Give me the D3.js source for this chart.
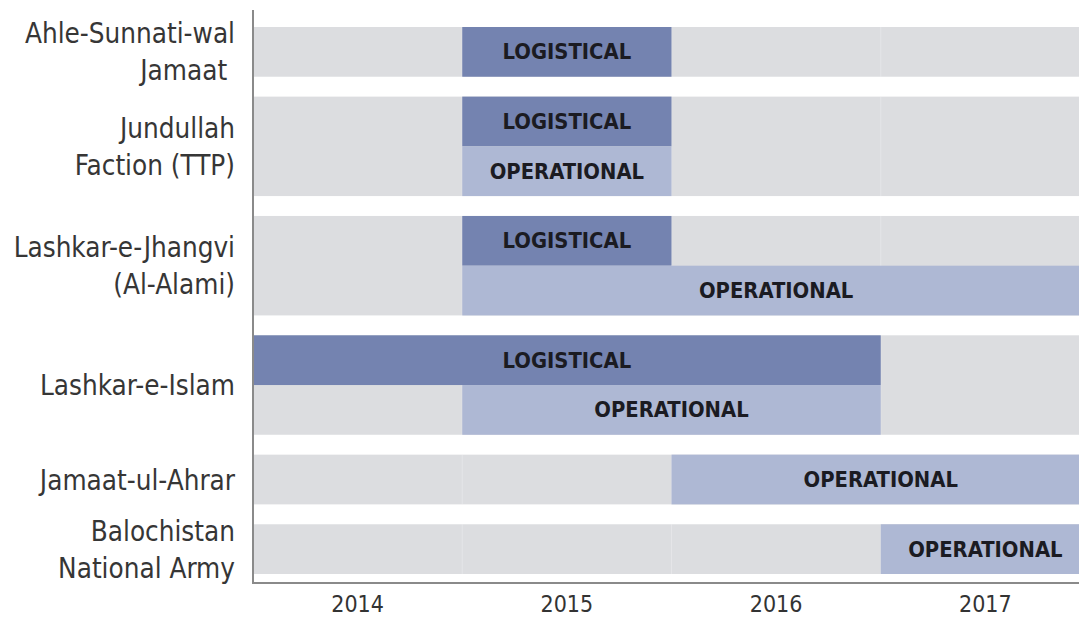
<!DOCTYPE html>
<html lang="en">
<head>
<meta charset="UTF-8">
<title>Militant group cooperation</title>
<script src="https://d3js.org/d3.v7.min.js"></script>
<style>
    body { margin: 0; background: #fff; }
    text { font-family: 'DejaVu Sans Condensed', 'DejaVu Sans', sans-serif; font-stretch: condensed; }
    .group-label { font-size: 27.6px; fill: #363636; text-anchor: end; }
    .bar-label { font-size: 21.8px; font-weight: bold; fill: #1b1b22; text-anchor: middle; }
    .year { font-size: 23px; fill: #333; text-anchor: middle; }
</style>
</head>
<body>
<svg width="1079" height="619"></svg>
<script>
    // groups, top to bottom (lines of the label)
    const groups = [
        ["Ahle-Sunnati-wal", "Jamaat\u00a0"],
        ["Jundullah", "Faction (TTP)"],
        ["Lashkar-e-Jhangvi", "(Al-Alami)"],
        ["Lashkar-e-Islam"],
        ["Jamaat-ul-Ahrar"],
        ["Balochistan", "National Army"]
    ];
    // cooperation spans, [start year, end year]; null = none
    const logistical = [[2015, 2016], [2015, 2016], [2015, 2016], [2014, 2017], null, null];
    const operational = [null, [2015, 2016], [2015, 2018], [2015, 2017], [2016, 2018], [2017, 2018]];
    const years = [2014, 2015, 2016, 2017];

    const svg = d3.select("svg");
    const marginL = 253, plotTop = 27, plotBottom = 574, axisY = 583;

    const x = d3.scaleLinear().domain([2014, 2018]).range([marginL, 1090]);

    // vertical layout: each group has one or two sub-rows, with a gap between groups
    const gap = 0.4;
    const rows = [];
    let pos = 0;
    groups.forEach((g, i) => {
        const kinds = [];
        if (logistical[i]) kinds.push("logistical");
        if (operational[i]) kinds.push("operational");
        rows.push({i, start: pos, n: kinds.length, kinds});
        pos += kinds.length + gap;
    });
    const y = d3.scaleLinear().domain([0, pos - gap]).range([plotTop, plotBottom]);

    // gray backgrounds
    svg.selectAll("rect.bg").data(rows).join("rect").attr("class", "bg")
        .attr("x", marginL + 1).attr("width", 1079 - marginL)
        .attr("y", d => y(d.start)).attr("height", d => y(d.start + d.n) - y(d.start))
        .attr("fill", "#dcdde0");

    // faint year boundaries inside bands
    rows.forEach(r => {
        svg.append("g").selectAll("line").data(years.slice(1)).join("line")
            .attr("x1", d => x(d)).attr("x2", d => x(d))
            .attr("y1", y(r.start)).attr("y2", y(r.start + r.n))
            .attr("stroke", "#ffffff").attr("stroke-opacity", 0.25);
    });

    // bars
    const bars = [];
    rows.forEach(r => {
        r.kinds.forEach((k, j) => {
            const span = k === "logistical" ? logistical[r.i] : operational[r.i];
            bars.push({kind: k, x0: span[0], x1: span[1], y0: r.start + j});
        });
    });
    svg.selectAll("rect.bar").data(bars).join("rect").attr("class", "bar")
        .attr("x", d => Math.max(x(d.x0), marginL + 1))
        .attr("width", d => x(d.x1) - Math.max(x(d.x0), marginL + 1))
        .attr("y", d => y(d.y0)).attr("height", d => y(d.y0 + 1) - y(d.y0))
        .attr("fill", d => d.kind === "logistical" ? "#7483b0" : "#aeb8d4");
    svg.selectAll("text.bar-label").data(bars).join("text").attr("class", "bar-label")
        .attr("x", d => x((d.x0 + d.x1) / 2))
        .attr("y", d => (y(d.y0) + y(d.y0 + 1)) / 2 + 7.5)
        .text(d => d.kind.toUpperCase());

    // group labels
    rows.forEach(r => {
        const lines = groups[r.i];
        const cy = (y(r.start) + y(r.start + r.n)) / 2;
        const lh = 37;
        const t = svg.append("text").attr("class", "group-label")
            .attr("x", 235).attr("y", cy - (lines.length - 1) * lh / 2 + 10);
        t.selectAll("tspan").data(lines).join("tspan")
            .attr("x", 235).attr("dy", (d, k) => k === 0 ? 0 : lh)
            .text(d => d);
    });

    // axes
    svg.append("line").attr("x1", marginL).attr("x2", marginL).attr("y1", 10).attr("y2", axisY)
        .attr("stroke", "#8a8a8a").attr("stroke-width", 2);
    svg.append("line").attr("x1", marginL - 1).attr("x2", 1079).attr("y1", axisY).attr("y2", axisY)
        .attr("stroke", "#8a8a8a").attr("stroke-width", 2);
    svg.selectAll("text.year").data(years).join("text").attr("class", "year")
        .attr("x", d => x(d + 0.5)).attr("y", 612)
        .text(d => d);
</script>
</body>
</html>
